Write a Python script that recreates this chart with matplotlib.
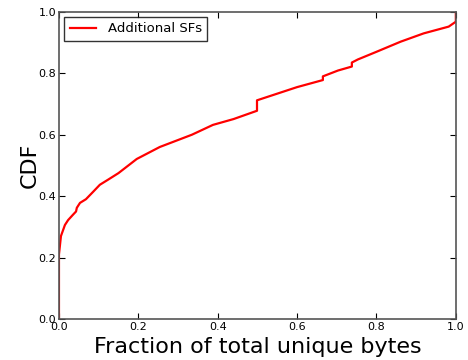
import matplotlib
matplotlib.use('Agg')
import matplotlib.pyplot as plt

# fraction of total unique bytes vs. cumulative fraction
frac = [0.0, 0.0, 0.005, 0.015, 0.023, 0.035, 0.043, 0.045, 0.053, 0.068,
        0.086, 0.103, 0.123, 0.15, 0.196, 0.254, 0.335, 0.388, 0.44,
        0.499, 0.499, 0.6, 0.665, 0.665, 0.703, 0.738, 0.738, 0.753,
        0.8, 0.861, 0.919, 0.982, 1.0, 1.0]
cdf = [0.0, 0.21, 0.27, 0.306, 0.322, 0.339, 0.35, 0.362, 0.378, 0.39,
       0.414, 0.437, 0.453, 0.475, 0.521, 0.56, 0.6, 0.632, 0.651,
       0.678, 0.712, 0.755, 0.778, 0.79, 0.809, 0.822, 0.835, 0.845,
       0.87, 0.903, 0.93, 0.952, 0.968, 1.0]

fig = plt.figure(figsize=(4.68, 3.6), dpi=100)
ax = fig.add_axes([0.126, 0.114, 0.848, 0.853])

ax.plot(frac, cdf, color='red', linewidth=1.6, label='Additional SFs')

ax.set_xlim(0, 1)
ax.set_ylim(0, 1)
ax.set_xticks([0, 0.2, 0.4, 0.6, 0.8, 1.0])
ax.set_yticks([0, 0.2, 0.4, 0.6, 0.8, 1.0])
ax.tick_params(direction='in', top=True, right=True, labelsize=8, length=4, pad=2)
for s in ax.spines.values():
    s.set_color('#555555')
    s.set_linewidth(1.2)

ax.set_xlabel('Fraction of total unique bytes', fontsize=16, labelpad=4)
ax.set_ylabel('CDF', fontsize=16, labelpad=-1)

leg = ax.legend(loc='upper left', fontsize=9.5, fancybox=False, borderaxespad=0.4,
                handlelength=2.0, handletextpad=0.9)
leg.get_frame().set_edgecolor('black')

fig.savefig('out.png', dpi=100)
